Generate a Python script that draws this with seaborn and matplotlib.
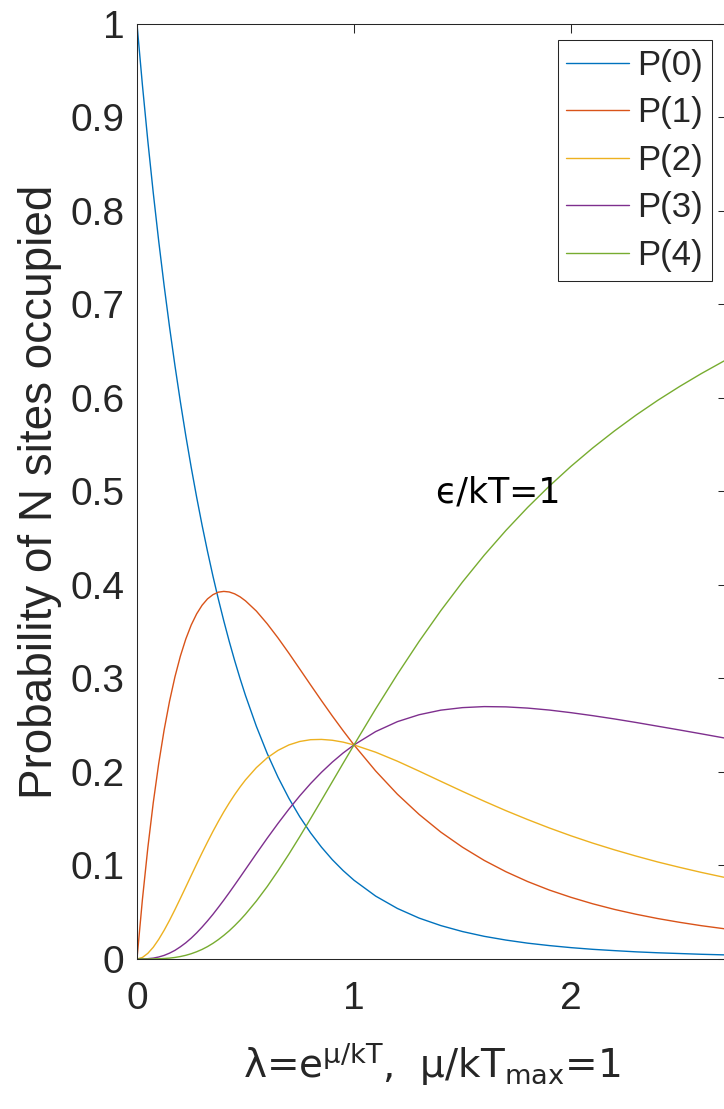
import pandas as pd
import matplotlib.pyplot as plt
import seaborn as sns

# values, lambda from 0 to e
lam = [0, 0.025, 0.05, 0.075, 0.1, 0.125, 0.15, 0.175, 0.2, 0.225, 0.25, 0.275, 0.3,
       0.325, 0.35, 0.375, 0.4, 0.425, 0.45, 0.475, 0.5, 0.55, 0.6, 0.65, 0.7,
       0.75, 0.8, 0.85, 0.9, 0.95, 1.0, 1.1, 1.2, 1.3, 1.4, 1.5, 1.6, 1.7, 1.8, 1.9, 2.0,
       2.1, 2.2, 2.3, 2.4, 2.5, 2.6, 2.7, 2.718]
p0 = [1.0, 0.9348, 0.8748, 0.8194, 0.768, 0.7203, 0.6759, 0.6345, 0.5958, 0.5595, 0.5256,
      0.4938, 0.4639, 0.4359, 0.4095, 0.3848, 0.3616, 0.3397, 0.3192, 0.2999, 0.2818,
      0.2489, 0.2198, 0.1943, 0.1718, 0.1521, 0.1348, 0.1196, 0.1062, 0.0945, 0.0842,
      0.0672, 0.054, 0.0437, 0.0357, 0.0293, 0.0242, 0.0202, 0.0169, 0.0143, 0.0121,
      0.0103, 0.0089, 0.0076, 0.0066, 0.0058, 0.005, 0.0044, 0.0043]
p1 = [0.0, 0.0635, 0.1189, 0.1671, 0.2088, 0.2448, 0.2756, 0.3018, 0.3239, 0.3422, 0.3572,
      0.3691, 0.3783, 0.3851, 0.3896, 0.3923, 0.3931, 0.3925, 0.3905, 0.3873, 0.383,
      0.3721, 0.3585, 0.3433, 0.327, 0.3101, 0.2931, 0.2763, 0.2599, 0.2441, 0.2289,
      0.201, 0.1762, 0.1546, 0.1357, 0.1195, 0.1054, 0.0933, 0.0828, 0.0737, 0.0659,
      0.059, 0.053, 0.0478, 0.0432, 0.0392, 0.0356, 0.0325, 0.0319]
p2 = [0.0, 0.0016, 0.006, 0.0125, 0.0209, 0.0306, 0.0413, 0.0528, 0.0648, 0.077, 0.0893,
      0.1015, 0.1135, 0.1251, 0.1364, 0.1471, 0.1573, 0.1668, 0.1757, 0.1839, 0.1915,
      0.2046, 0.2151, 0.2231, 0.2289, 0.2326, 0.2345, 0.2348, 0.2339, 0.2319, 0.2289,
      0.2211, 0.2115, 0.2009, 0.19, 0.1792, 0.1687, 0.1586, 0.1491, 0.1401, 0.1317,
      0.1239, 0.1167, 0.11, 0.1037, 0.098, 0.0926, 0.0876, 0.0868]
p3 = [0.0, 0.0, 0.0003, 0.0009, 0.0021, 0.0038, 0.0062, 0.0092, 0.013, 0.0173, 0.0223,
      0.0279, 0.0341, 0.0407, 0.0477, 0.0552, 0.0629, 0.0709, 0.0791, 0.0874, 0.0958,
      0.1126, 0.1291, 0.145, 0.1602, 0.1744, 0.1876, 0.1996, 0.2105, 0.2203, 0.2289,
      0.2432, 0.2538, 0.2612, 0.2661, 0.2688, 0.2699, 0.2696, 0.2683, 0.2662, 0.2634,
      0.2602, 0.2567, 0.2529, 0.2489, 0.2449, 0.2408, 0.2366, 0.2359]
p4 = [0.0, 0.0, 0.0, 0.0001, 0.0002, 0.0005, 0.0009, 0.0016, 0.0026, 0.0039, 0.0056,
      0.0077, 0.0102, 0.0132, 0.0167, 0.0207, 0.0252, 0.0301, 0.0356, 0.0415, 0.0479,
      0.0619, 0.0774, 0.0943, 0.1121, 0.1308, 0.1501, 0.1697, 0.1895, 0.2093, 0.2289,
      0.2675, 0.3045, 0.3396, 0.3725, 0.4032, 0.4318, 0.4583, 0.4829, 0.5057, 0.5269,
      0.5465, 0.5647, 0.5817, 0.5975, 0.6122, 0.626, 0.6389, 0.6411]
labels = ['P(0)', 'P(1)', 'P(2)', 'P(3)', 'P(4)']
colors = ['#0072BD', '#D95319', '#EDB120', '#7E2F8E', '#77AC30']

df = pd.concat([pd.DataFrame({'lam': lam, 'p': v, 'N': lab})
                for v, lab in zip([p0, p1, p2, p3, p4], labels)])

sns.set_theme(style="white")
plt.rcParams['font.family'] = ['Liberation Sans', 'DejaVu Sans']
plt.rcParams['mathtext.fontset'] = 'dejavusans'

fig = plt.figure(figsize=(7.24, 11.09), dpi=100)
ax = fig.add_axes([0.1892, 0.1353, 0.8147, 0.8431])
dark = '#262626'

sns.lineplot(data=df, x='lam', y='p', hue='N', palette=colors, linewidth=1.0,
             sort=False, ax=ax)

ax.set_xlim(0, 2.718)
ax.set_ylim(0, 1)
ax.set_xticks([0, 1, 2])
ax.set_xticklabels(['0', '1', '2'])
ax.set_yticks([i / 10 for i in range(11)])
ax.set_yticklabels(['0'] + ['0.%d' % i for i in range(1, 10)] + ['1'])
ax.tick_params(direction='in', length=6.5, width=0.75, colors=dark, labelsize=28,
               top=True, right=True)
ax.tick_params(axis='x', pad=16)
ax.tick_params(axis='y', pad=9)
for s in ax.spines.values():
    s.set_color(dark)
    s.set_linewidth(0.75)

ax.set_xlabel(r'λ=e$^{\mathrm{μ/kT}}$,  μ/kT$_{\mathrm{max}}$=1', fontsize=28,
              color=dark, labelpad=17, family=['DejaVu Sans'])
ax.set_ylabel('Probability of N sites occupied', fontsize=33, color=dark, labelpad=6)

ax.text(1.373, 0.488, 'ϵ/kT=1', fontsize=25, color='black', ha='left', va='baseline',
        family=['DejaVu Sans'])

handles, labs = ax.get_legend_handles_labels()
ax.legend(handles, labs, loc='upper right', bbox_to_anchor=(0.9834, 0.9639),
          bbox_transform=fig.transFigure, borderaxespad=0, fontsize=25,
          frameon=True, fancybox=False, framealpha=1, edgecolor=dark,
          handlelength=1.8, handletextpad=0.25, labelspacing=0.42, borderpad=0.25,
          title=None)
ax.get_legend().get_frame().set_linewidth(0.75)

plt.savefig("out.png", dpi=100)
